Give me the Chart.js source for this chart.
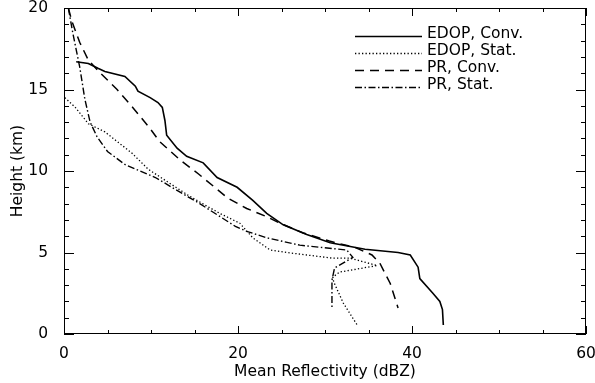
<!DOCTYPE html>
<html>
<head>
<meta charset="utf-8">
<script src="https://cdn.jsdelivr.net/npm/chart.js@4.4.1/dist/chart.umd.min.js"></script>
<style>
  html, body { margin: 0; padding: 0; background: #fff; }
  #grafico { display: block; }
</style>
</head>
<body>
<canvas id="grafico" width="595" height="383"></canvas>
<script>
// Perfiles medios: reflectividad (dBZ) contra altura (km)
const etiquetas = ['EDOP, Conv.', 'EDOP, Stat.', 'PR, Conv.', 'PR, Stat.'];

const edopConvDbz = [1.4, 2.8, 3.9, 4.7, 7.0, 8.2, 8.5, 9.9, 10.8, 11.3, 11.6, 11.8, 13.0, 14.1, 16.0, 17.6, 19.9, 21.7, 23.3, 25.2, 27.9, 30.6, 34.6, 38.4, 39.8, 40.7, 40.9, 42.4, 43.2, 43.5, 43.6];
const edopConvKm  = [16.7, 16.6, 16.3, 16.1, 15.8, 15.2, 14.9, 14.5, 14.2, 13.9, 13.1, 12.2, 11.4, 10.9, 10.5, 9.6, 9.0, 8.2, 7.4, 6.7, 6.1, 5.6, 5.2, 5.0, 4.85, 4.1, 3.4, 2.5, 2.0, 1.5, 0.55];

const edopStatDbz = [0.1, 0.9, 1.3, 2.8, 4.7, 7.8, 9.7, 14.3, 15.6, 17.9, 20.2, 21.7, 23.7, 25.6, 30.9, 32.9, 36.0, 31.7, 30.9, 31.0, 32.1, 33.7];
const edopStatKm  = [14.5, 14.1, 13.9, 12.9, 12.4, 11.1, 10.1, 8.5, 8.1, 7.4, 6.8, 5.9, 5.15, 5.0, 4.65, 4.65, 4.2, 3.8, 3.5, 3.2, 1.9, 0.55];

const prConvDbz = [0.5, 0.9, 1.8, 2.8, 4.1, 6.1, 7.9, 9.9, 11.0, 13.3, 15.5, 18.8, 21.0, 23.3, 24.8, 27.5, 30.5, 33.5, 35.4, 36.3, 37.5, 38.4];
const prConvKm  = [20.0, 19.2, 17.9, 16.8, 16.05, 15.0, 13.9, 12.6, 11.8, 10.7, 9.8, 8.35, 7.7, 7.2, 6.8, 6.2, 5.7, 5.3, 4.85, 4.35, 3.1, 1.6];

const prStatDbz = [0.5, 1.0, 1.8, 2.4, 3.0, 3.8, 5.0, 7.0, 10.5, 14.3, 15.6, 19.7, 21.0, 23.3, 27.1, 32.5, 33.2, 31.1, 30.8, 30.8];
const prStatKm  = [20.0, 18.5, 16.4, 14.4, 13.0, 12.1, 11.2, 10.4, 9.6, 8.4, 8.0, 6.6, 6.3, 5.9, 5.45, 5.15, 4.7, 4.05, 3.3, 1.6];

const ticksX = [0, 20, 40, 60];
const ticksY = [0, 5, 10, 15, 20];

const fuente = { family: 'DejaVu Sans', size: 15.5 };

function pares(xs, ys) {
    return xs.map((x, i) => ({ x: x, y: ys[i] }));
}

function serie(label, xs, ys, ancho, trazo) {
    return {
        label: label,
        data: pares(xs, ys),
        showLine: true,
        borderColor: '#000',
        borderWidth: ancho,
        borderDash: trazo,
        pointRadius: 0,
        tension: 0,
        fill: false
    };
}

// Marco con marcas hacia dentro en los cuatro lados, y la leyenda
const marcoPlugin = {
    id: 'marco',
    afterDraw(chart) {
        const ctx = chart.ctx;
        const a = chart.chartArea;
        const sx = chart.scales.x;
        const sy = chart.scales.y;
        ctx.save();
        ctx.strokeStyle = '#000';
        ctx.lineWidth = 1;
        ctx.setLineDash([]);
        ctx.strokeRect(a.left + 0.5, a.top + 0.5, a.right - a.left - 1, a.bottom - a.top - 1);
        ctx.beginPath();
        for (let v = 0; v <= 60; v += 5) {
            const px = Math.round(sx.getPixelForValue(v)) + 0.5;
            const len = ticksX.includes(v) ? 8 : 4;
            ctx.moveTo(px, a.bottom); ctx.lineTo(px, a.bottom - len);
            ctx.moveTo(px, a.top); ctx.lineTo(px, a.top + len);
        }
        for (let v = 0; v <= 20; v += 1) {
            const py = Math.round(sy.getPixelForValue(v)) + 0.5;
            const len = ticksY.includes(v) ? 10 : 5;
            ctx.moveTo(a.left, py); ctx.lineTo(a.left + len, py);
            ctx.moveTo(a.right, py); ctx.lineTo(a.right - len, py);
        }
        ctx.stroke();

        // leyenda
        ctx.font = fuente.size + 'px ' + fuente.family;
        ctx.fillStyle = '#000';
        ctx.textBaseline = 'alphabetic';
        chart.data.datasets.forEach((ds, i) => {
            const y = 36 + i * 17;
            ctx.lineWidth = ds.borderWidth;
            ctx.setLineDash(ds.borderDash);
            ctx.beginPath();
            ctx.moveTo(355, y + 0.5);
            ctx.lineTo(422, y + 0.5);
            ctx.stroke();
            ctx.fillText(ds.label, 427, y + 2);
        });
        ctx.restore();
    }
};

const ctxGrafico = document.getElementById('grafico').getContext('2d');

new Chart(ctxGrafico, {
    type: 'scatter',
    data: {
        datasets: [
            serie(etiquetas[0], edopConvDbz, edopConvKm, 1.6, []),
            serie(etiquetas[1], edopStatDbz, edopStatKm, 1.3, [1.3, 2.2]),
            serie(etiquetas[2], prConvDbz, prConvKm, 1.5, [9, 6]),
            serie(etiquetas[3], prStatDbz, prStatKm, 1.4, [7, 2.5, 1.5, 2.5])
        ]
    },
    options: {
        responsive: false,
        animation: false,
        devicePixelRatio: 1,
        layout: { padding: { top: 8, right: 9, left: 0, bottom: 0 } },
        plugins: {
            legend: { display: false },
            tooltip: { enabled: false }
        },
        scales: {
            x: {
                type: 'linear',
                min: 0,
                max: 60,
                afterFit: s => { s.height = 49; s.paddingLeft = 0; s.paddingRight = 0; },
                afterBuildTicks: s => { s.ticks = ticksX.map(v => ({ value: v })); },
                grid: { display: false },
                border: { display: false },
                ticks: { color: '#000', font: fuente, padding: 3, maxRotation: 0 },
                title: {
                    display: true,
                    text: 'Mean Reflectivity (dBZ)',
                    color: '#000',
                    font: fuente,
                    padding: { top: 0, bottom: 2 }
                }
            },
            y: {
                type: 'linear',
                min: 0,
                max: 20,
                afterFit: s => { s.width = 64; s.paddingTop = 0; s.paddingBottom = 0; },
                afterBuildTicks: s => { s.ticks = ticksY.map(v => ({ value: v })); },
                grid: { display: false },
                border: { display: false },
                ticks: { color: '#000', font: fuente, padding: 8 },
                title: {
                    display: true,
                    text: 'Height (km)',
                    color: '#000',
                    font: fuente,
                    padding: { top: 9, bottom: 0 }
                }
            }
        }
    },
    plugins: [marcoPlugin]
});
</script>
</body>
</html>
